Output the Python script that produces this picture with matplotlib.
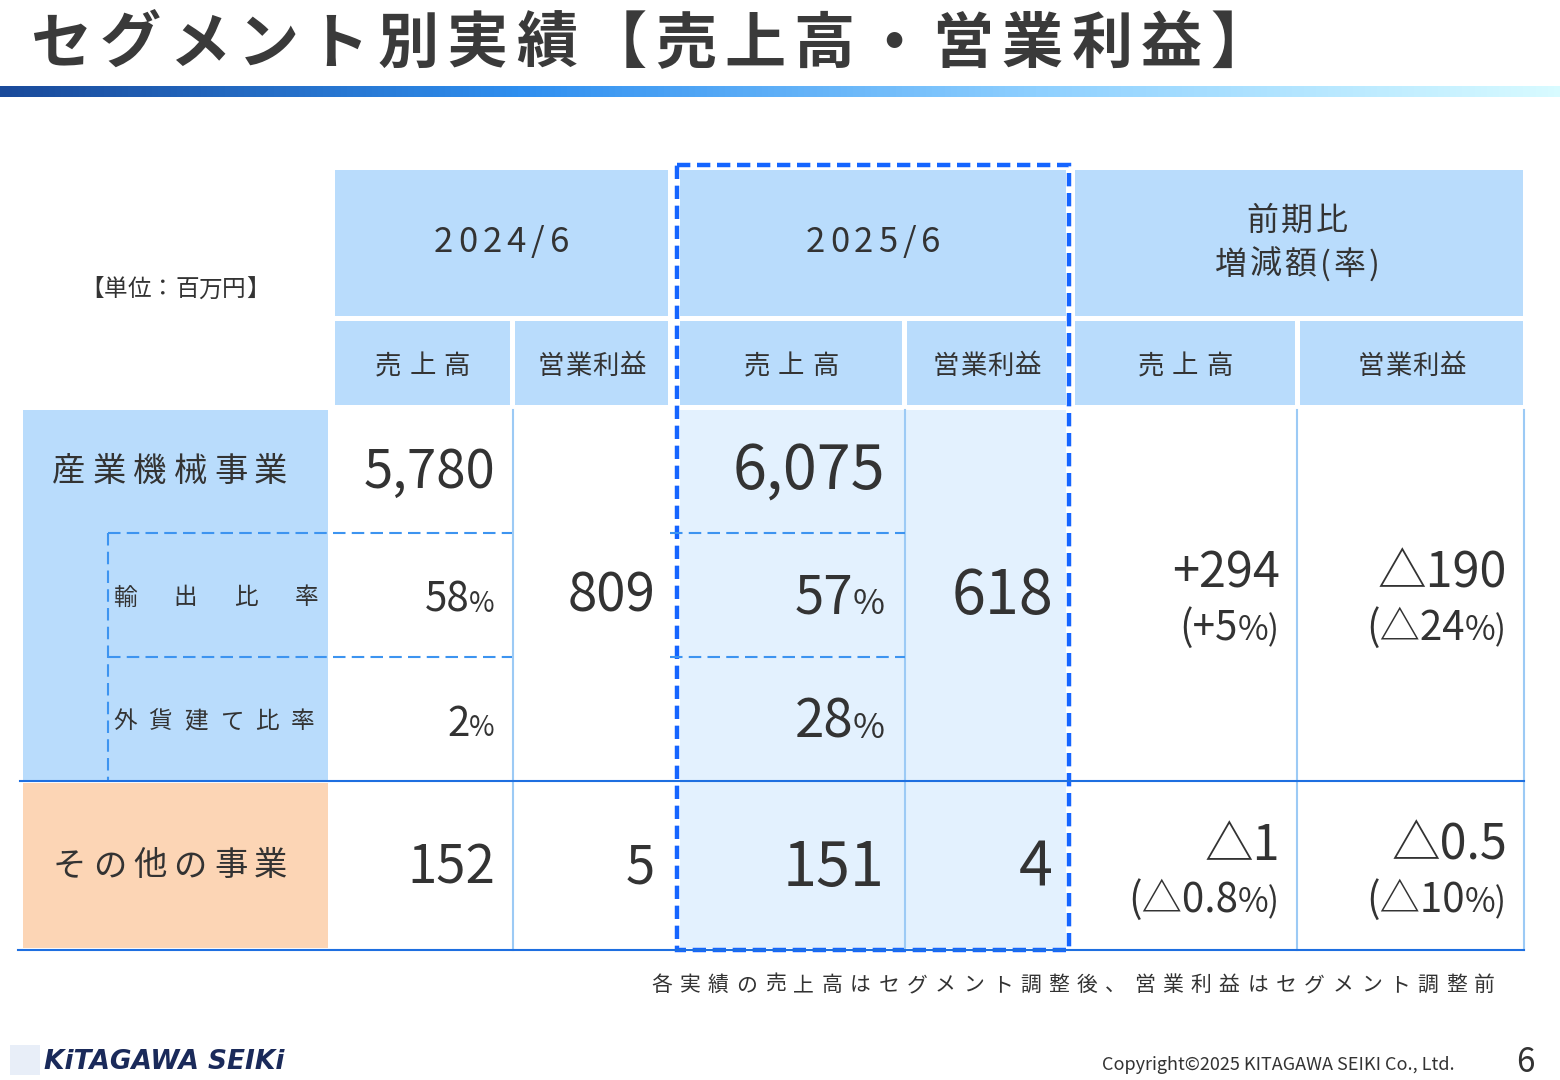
import matplotlib
matplotlib.use('Agg')
import matplotlib.pyplot as plt
import numpy as np
from matplotlib.patches import Rectangle
from matplotlib.colors import LinearSegmentedColormap

plt.rcParams['font.family'] = ['Noto Sans CJK JP', 'DejaVu Sans']

title = 'セグメント別実績【売上高・営業利益】'
periods = ['2024/6', '2025/6']
period_diff = ['前期比', '増減額(率)']
sub_headers = ['売上高', '営業利益', '売上高', '営業利益', '売上高', '営業利益']
segments = ['産業機械事業', 'その他の事業']
ratio_labels = ['輸出比率', '外貨建て比率']
sales_2024 = [5780, 152]
op_2024 = [809, 5]
sales_2025 = [6075, 151]
op_2025 = [618, 4]
export_ratio = [58, 57]
fx_ratio = [2, 28]
diff_sales = [('+294', '(+5', '%)'), ('△1', '(△0.8', '%)')]
diff_op = [('△190', '(△24', '%)'), ('△0.5', '(△10', '%)')]
note = '各実績の売上高はセグメント調整後、営業利益はセグメント調整前'
unit = '【単位：百万円】'

C = '#333333'
fig = plt.figure(figsize=(15.6, 10.8), dpi=100)
ax = fig.add_axes([0, 0, 1, 1])
ax.set_xlim(0, 1560); ax.set_ylim(1080, 0); ax.axis('off')
R = fig.canvas.get_renderer()
S = 1560 / fig.bbox.width

def spaced(x, y, s, size, track, ha='left', color=C, fontweight='normal'):
    ts = [ax.text(0, y, ch, fontsize=size, color=color, va='center', fontweight=fontweight) for ch in s]
    ws = [t.get_window_extent(R).width * S for t in ts]
    total = sum(ws) + track * (len(s) - 1)
    x0 = x if ha == 'left' else (x - total / 2 if ha == 'center' else x - total)
    for t, w in zip(ts, ws):
        t.set_x(x0); x0 += w + track

spaced(30, 45, title, 44, 8.3, color='#3a3a3a', fontweight='bold')
grad = np.linspace(0, 1, 256)[None, :]
cm = LinearSegmentedColormap.from_list('g', ['#1a4a9a', '#2f8ff0', '#8fd0ff', '#d8fbff'])
ax.imshow(grad, cmap=cm, extent=[0, 1560, 97, 86], aspect='auto')

HB = '#b9dcfc'
def rect(x0, y0, x1, y1, fc, **kw):
    ax.add_patch(Rectangle((x0, y0), x1 - x0, y1 - y0, fc=fc, ec='none', **kw))

for x0, x1 in [(335, 668), (680, 1066), (1075, 1523)]:
    rect(x0, 170, x1, 316, HB)
subx = [(335, 510), (515, 668), (680, 902), (907, 1066), (1075, 1295), (1300, 1523)]
for (x0, x1), s in zip(subx, sub_headers):
    rect(x0, 321, x1, 405, HB)
    spaced((x0 + x1) / 2, 366, s, 19, 8 if len(s) == 3 else 1, ha='center')
for (x0, x1), p in zip([(335, 668), (680, 1066)], periods):
    spaced((x0 + x1) / 2, 243, p, 25, 5, ha='center')
spaced(1297, 221, period_diff[0], 23, 3, ha='center')
spaced(1297, 265, period_diff[1], 23, 3, ha='center')
spaced(175, 290, unit, 17, 0, ha='center')

rect(23, 410, 328, 780, HB)
rect(23, 783, 328, 948, '#fcd5b5')
rect(680, 410, 1066, 948, '#e3f1fe')

LB = '#9ccaf5'
for x in [513, 905, 1297, 1524]:
    ax.plot([x, x], [410, 950], color=LB, lw=1.5)
ax.plot([20, 1524], [781, 781], color='#1e6fe0', lw=1.5)
ax.plot([18, 1524], [950, 950], color='#1e6fe0', lw=1.5)
DB = '#3d94f0'
for y in [533, 657]:
    ax.plot([108, 512], [y, y], color=DB, lw=1.5, ls=(0, (6, 3)))
    ax.plot([670, 905], [y, y], color=DB, lw=1.5, ls=(0, (6, 3)))
ax.plot([108, 108], [533, 780], color=DB, lw=1.5, ls=(0, (6, 3)))
ax.add_patch(Rectangle((677, 165), 392, 785, fc='none', ec='#1565ff', lw=3.2, ls=(0, (3, 1.5))))

spaced(170, 471, segments[0], 24, 7, ha='center')
spaced(170, 866, segments[1], 24, 7, ha='center')
spaced(113, 598, ratio_labels[0], 17, 37)
spaced(113, 722, ratio_labels[1], 17, 12)

def pct(xr, y, num, size, tail='%', tsize=None, pre=''):
    tsize = tsize or size * 0.7
    t = ax.text(xr, y, tail, fontsize=tsize, color=C, ha='right', va='baseline')
    left = t.get_window_extent(R).x0 * S
    ax.text(left, y, pre + str(num), fontsize=size, color=C, ha='right', va='baseline')

def num(x, y, v, size=44):
    ax.text(x, y, f'{v:,}' if isinstance(v, int) else v, fontsize=size, color=C, ha='right', va='baseline')

num(495, 488, sales_2024[0], 38); num(885, 490, sales_2025[0], 44)
num(495, 884, sales_2024[1], 38); num(885, 886, sales_2025[1], 44)
num(655, 612, op_2024[0], 38); num(1053, 614, op_2025[0], 44)
num(655, 884, op_2024[1], 38); num(1053, 886, op_2025[1], 44)
pct(495, 612, export_ratio[0], 29, tsize=20); pct(885, 614, export_ratio[1], 38, tsize=25)
pct(495, 736, fx_ratio[0], 29, tsize=20); pct(885, 738, fx_ratio[1], 38, tsize=25)

for xr, rows in [(1280, diff_sales), (1507, diff_op)]:
    for (a, b, c), (y1, y2) in zip(rows, [(588, 640), (860, 912)]):
        num(xr, y1, a, 35)
        pct(xr, y2, b, 29, tail=c, tsize=24)

spaced(1495, 985, note, 15, 7.5, ha='right')
ax.text(1455, 1065, 'Copyright©2025 KITAGAWA SEIKI Co., Ltd.', fontsize=13, color=C, ha='right', va='center')
ax.text(1535, 1062, '6', fontsize=24, color=C, ha='right', va='center')
rect(10, 1045, 40, 1075, '#e8eef8')
ax.text(44, 1062, 'KiTAGAWA SEIKi', fontsize=19, fontweight='bold', fontstyle='italic',
        color='#1a2a5a', va='center', family='DejaVu Sans')
fig.savefig('out.png', dpi=100)
